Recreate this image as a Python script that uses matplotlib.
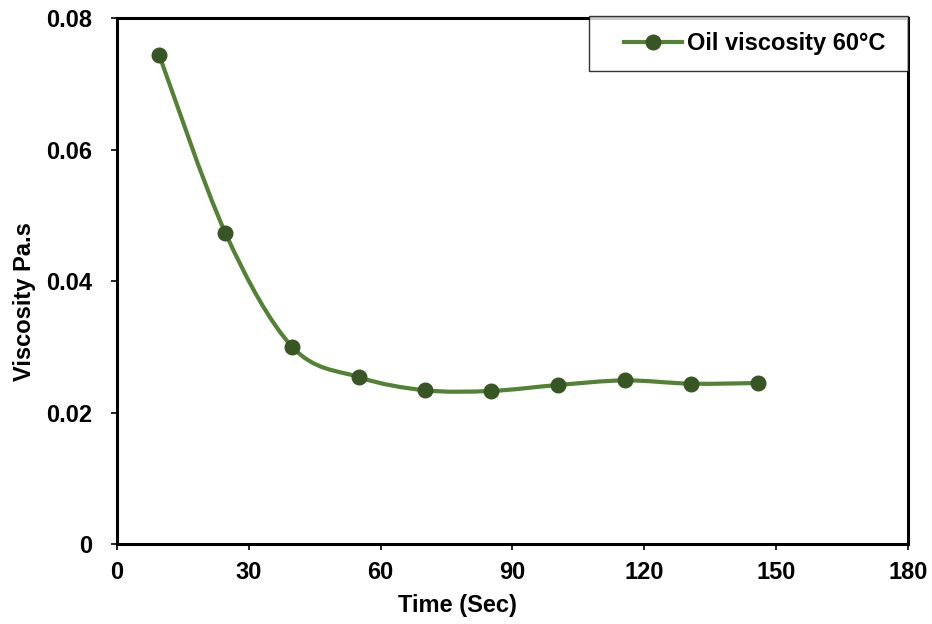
import matplotlib.pyplot as plt
from matplotlib.path import Path
from matplotlib.patches import PathPatch
from matplotlib.lines import Line2D
from matplotlib.legend_handler import HandlerLine2D

plt.rcParams['font.family'] = ['Liberation Sans', 'DejaVu Sans']
plt.rcParams['font.weight'] = 'bold'

time_sec = [9.6, 24.7, 39.9, 55.0, 70.1, 85.2, 100.4, 115.6, 130.7, 145.9]
viscosity = [0.0744, 0.0473, 0.0300, 0.0254, 0.0234, 0.0233, 0.0242, 0.0249, 0.0244, 0.0245]
x_ticks = [0, 30, 60, 90, 120, 150, 180]
y_ticks = [0, 0.02, 0.04, 0.06, 0.08]
y_labels = ['0', '0.02', '0.04', '0.06', '0.08']

line_color = '#548235'
marker_color = '#375623'
fs = 17

fig = plt.figure(figsize=(9.32, 6.24), dpi=100)
ax = fig.add_axes([0.1255, 0.128, 0.8485, 0.843])

# smoothed line (Excel-like cubic Bezier through the points)
verts = [(time_sec[0], viscosity[0])]
codes = [Path.MOVETO]
n = len(time_sec)
for i in range(n - 1):
    p0 = (time_sec[max(i - 1, 0)], viscosity[max(i - 1, 0)])
    p1 = (time_sec[i], viscosity[i])
    p2 = (time_sec[i + 1], viscosity[i + 1])
    p3 = (time_sec[min(i + 2, n - 1)], viscosity[min(i + 2, n - 1)])
    c1 = (p1[0] + (p2[0] - p0[0]) / 6, p1[1] + (p2[1] - p0[1]) / 6)
    c2 = (p2[0] - (p3[0] - p1[0]) / 6, p2[1] - (p3[1] - p1[1]) / 6)
    verts += [c1, c2, p2]
    codes += [Path.CURVE4] * 3
ax.add_patch(PathPatch(Path(verts, codes), facecolor='none',
                       edgecolor=line_color, linewidth=3.0, capstyle='round'))
ax.plot(time_sec, viscosity, linestyle='none', marker='o', markersize=10.5,
        color=marker_color, zorder=3)

ax.set_xlim(0, 180)
ax.set_ylim(0, 0.08)
ax.set_xticks(x_ticks)
ax.set_yticks(y_ticks)
ax.set_yticklabels(y_labels)
ax.tick_params(direction='out', length=4, width=1.2, labelsize=fs)
ax.tick_params(axis='x', pad=8)
ax.tick_params(axis='y', pad=14)
for s in ax.spines.values():
    s.set_linewidth(2.2)

ax.set_xlabel('Time (Sec)', fontsize=fs, fontweight='bold')
ax.set_ylabel('Viscosity Pa.s', fontsize=fs, fontweight='bold')
ax.xaxis.set_label_coords(0.431, -0.095)
ax.yaxis.set_label_coords(-0.103, 0.462)

handle = Line2D([], [], color=line_color, linewidth=3.0, marker='o',
                markersize=10.5, markerfacecolor=marker_color,
                markeredgecolor=marker_color)
leg = ax.legend([handle], ['Oil viscosity 60°C '], loc='upper right',
                bbox_to_anchor=(1.0, 1.004), fontsize=fs, frameon=True,
                fancybox=False, borderpad=0.68, handlelength=3.22,
                handletextpad=0.22, borderaxespad=0,
                handler_map={handle: HandlerLine2D(xpad=0.8)})
leg.get_frame().set_edgecolor('black')
leg.get_frame().set_linewidth(1.0)

plt.savefig('out.png', dpi=100)
plt.close()
